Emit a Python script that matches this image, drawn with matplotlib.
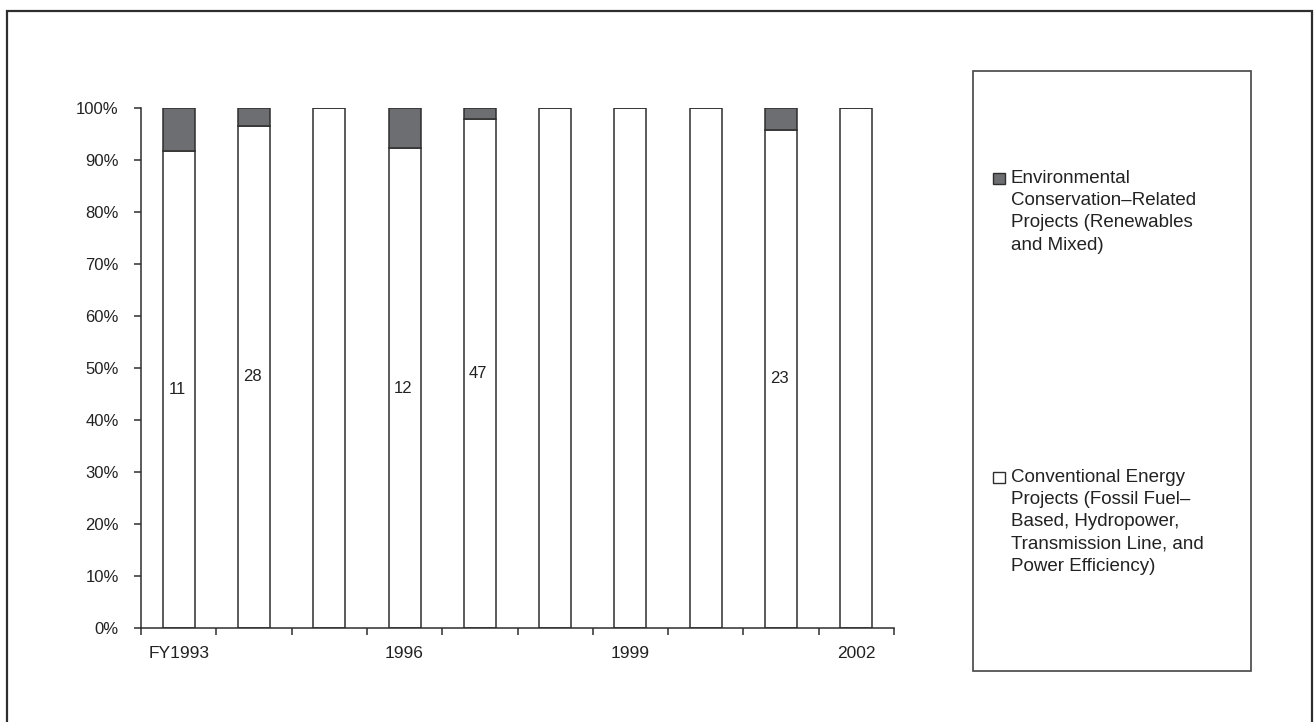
import numpy as np
import matplotlib
matplotlib.use("Agg")
import matplotlib.pyplot as plt
from matplotlib.patches import Rectangle

plt.rcParams['font.family'] = ['Liberation Sans', 'DejaVu Sans']

# fiscal years and shares of each project type (percent of the year's total)
years = ["FY1993", "1994", "1995", "1996", "1997", "1998", "1999", "2000", "2001", "2002"]
year_labels = ["FY1993", "", "", "1996", "", "", "1999", "", "", "2002"]
conventional_pct = [91.7, 96.6, 100, 92.3, 97.9, 100, 100, 100, 95.8, 100]
environmental_pct = [8.3, 3.4, 0, 7.7, 2.1, 0, 0, 0, 4.2, 0]
bar_labels = ["11", "28", "", "12", "47", "", "", "", "23", ""]

env_label = "Environmental\nConservation\u2013Related\nProjects (Renewables\nand Mixed)"
conv_label = ("Conventional Energy\nProjects (Fossil Fuel\u2013\nBased, Hydropower,\n"
              "Transmission Line, and\nPower Efficiency)")

W, H = 1314, 722
DARK = "#2e2e2e"
GREY = "#6d6e71"
TEXT = "#222222"


def fx(x):
    return x / W


def fy(y):
    return 1 - y / H


fig = plt.figure(figsize=(W / 100, H / 100), dpi=100)
ax = fig.add_axes([fx(141), fy(628), fx(894 - 141), (628 - 108) / H])

x = np.arange(len(years))
conv = np.array(conventional_pct) / 100
env = np.array(environmental_pct) / 100

ax.bar(x, conv, width=0.425, color="white", edgecolor=DARK, linewidth=1.1, zorder=2)
ax.bar(x, env, width=0.425, bottom=conv, color=GREY, edgecolor=DARK, linewidth=1.1, zorder=2)

for xi, c, lab in zip(x, conv, bar_labels):
    if lab:
        ax.text(xi - 0.02, c / 2, lab, ha="center", va="center", fontsize=12, color=TEXT)

ax.set_xlim(-0.5, len(years) - 0.5)
ax.set_ylim(0, 1)
ax.set_yticks(np.arange(0, 1.01, 0.1))
ax.set_yticklabels([f"{int(round(v * 100))}%" for v in np.arange(0, 1.01, 0.1)])

# tick marks between categories, year names under the bars
ax.set_xticks(np.arange(-0.5, len(years), 1.0))
ax.set_xticklabels([])
ax.set_xticks(x, minor=True)
ax.set_xticklabels(year_labels, minor=True)
ax.tick_params(axis="x", which="major", length=5, width=1.1, color=DARK, direction="out")
ax.tick_params(axis="x", which="minor", length=0, pad=13, labelsize=12.5, labelcolor=TEXT)
ax.tick_params(axis="y", length=5, width=1.1, color=DARK, direction="out", pad=11,
               labelsize=12, labelcolor=TEXT)

for side in ["top", "right"]:
    ax.spines[side].set_visible(False)
for side in ["left", "bottom"]:
    ax.spines[side].set_color(DARK)
    ax.spines[side].set_linewidth(1.1)

# outer frame (runs off the bottom edge)
fig.add_artist(Rectangle((fx(7), fy(740)), fx(1313 - 7) - 0.0005, (740 - 11) / H,
                         transform=fig.transFigure, fill=False, edgecolor=DARK,
                         linewidth=1.6, clip_on=False))

# legend box
fig.add_artist(Rectangle((fx(973), fy(671)), fx(1251 - 973), (671 - 71) / H,
                         transform=fig.transFigure, fill=False, edgecolor="#444444",
                         linewidth=1.2))

for top, col, lab in [(173, GREY, env_label), (472, "white", conv_label)]:
    fig.add_artist(Rectangle((fx(993), fy(top + 11)), fx(12), 11 / H,
                             transform=fig.transFigure, facecolor=col,
                             edgecolor=DARK, linewidth=1.0))
    fig.text(fx(1011), fy(top - 3), lab, ha="left", va="top", fontsize=13.5,
             color=TEXT, linespacing=1.4)

fig.savefig("out.png", dpi=100, facecolor="white")
